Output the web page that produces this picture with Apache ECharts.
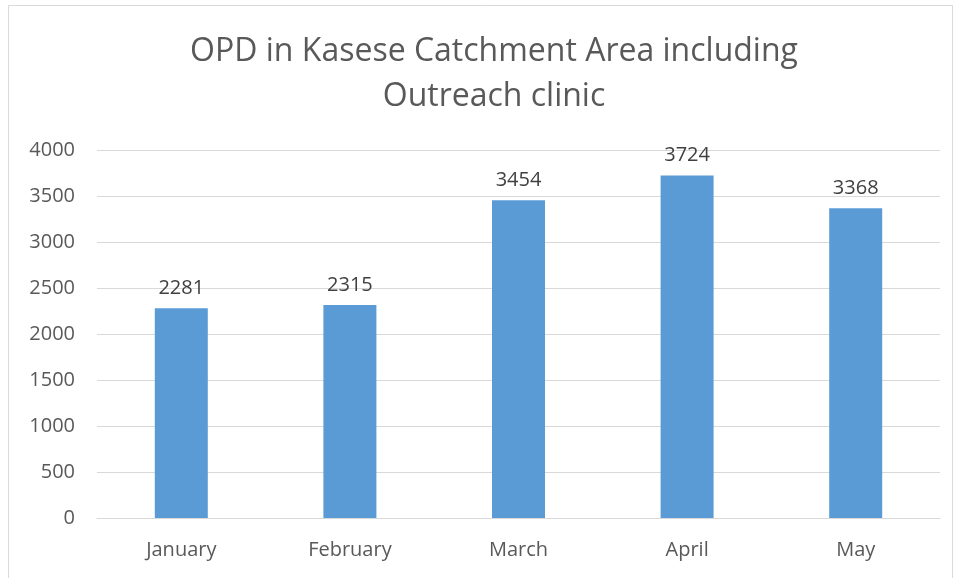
<!DOCTYPE html>
<html>
<head>
<meta charset="utf-8">
<script src="https://cdn.jsdelivr.net/npm/echarts@6/dist/echarts.min.js"></script>
<style>
  html, body { margin: 0; padding: 0; background: #fff; }
  #chart { width: 956px; height: 578px; }
</style>
</head>
<body>
<div id="chart"></div>
<script>
// data
var months = ['January', 'February', 'March', 'April', 'May'];
var opdCounts = [2281, 2315, 3454, 3724, 3368];
var yTicks = [0, 500, 1000, 1500, 2000, 2500, 3000, 3500, 4000];

var chart = echarts.init(document.getElementById('chart'), null, { renderer: 'canvas' });
var font = '"Open Sans", "Liberation Sans", sans-serif';

var option = {
  animation: false,
  backgroundColor: '#fff',
  graphic: [{
    type: 'rect',
    shape: { x: 8.5, y: 5.5, width: 944, height: 600 },
    style: { fill: 'none', stroke: '#D9D9D9', lineWidth: 1 },
    silent: true
  }],
  title: {
    text: 'OPD in Kasese Catchment Area including\nOutreach clinic',
    left: 489,
    textAlign: 'center',
    top: 24,
    textStyle: {
      fontFamily: font,
      fontSize: 32,
      fontWeight: 'normal',
      color: '#595959',
      lineHeight: 45
    }
  },
  grid: { left: 97, right: 16, top: 150, bottom: 60 },
  xAxis: {
    type: 'category',
    data: months,
    axisLine: { show: true, lineStyle: { color: '#D9D9D9', width: 1 } },
    axisTick: { show: false },
    axisLabel: { fontFamily: font, fontSize: 20, color: '#595959', margin: 22 }
  },
  yAxis: {
    type: 'value',
    min: yTicks[0],
    max: yTicks[yTicks.length - 1],
    interval: 500,
    axisLine: { show: false },
    axisTick: { show: false },
    splitLine: { lineStyle: { color: '#D9D9D9', width: 1 } },
    axisLabel: {
      fontFamily: font, fontSize: 20, color: '#595959', margin: 22,
      formatter: function (v) { return String(v); }
    }
  },
  series: [{
    type: 'bar',
    data: opdCounts,
    barWidth: 53,
    itemStyle: { color: '#5B9BD5' },
    label: {
      show: true,
      position: 'top',
      distance: 10,
      fontFamily: font,
      fontSize: 20,
      color: '#404040'
    }
  }]
};

chart.setOption(option);
</script>
</body>
</html>
